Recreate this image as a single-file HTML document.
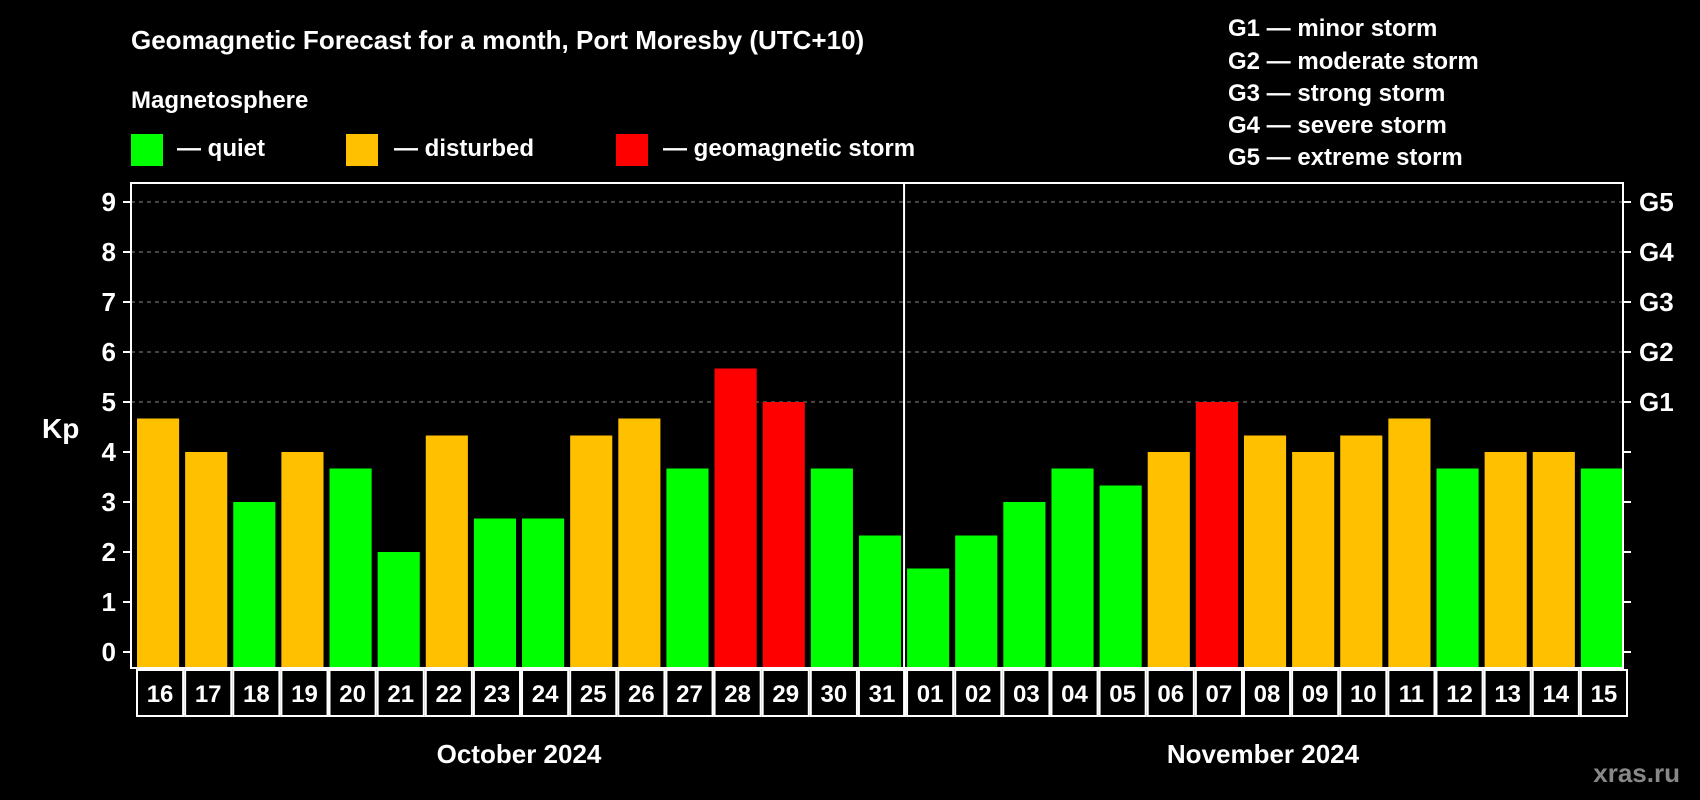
<!DOCTYPE html>
<html><head><meta charset="utf-8"><style>
body{margin:0;background:#000;}
svg{display:block;font-family:"Liberation Sans",Arial,sans-serif;font-weight:bold;}
</style></head><body>
<svg id="c" width="1700" height="800" viewBox="0 0 1700 800">
<rect width="1700" height="800" fill="#000"/>
<text x="131" y="49" fill="#fff" font-size="26">Geomagnetic Forecast for a month, Port Moresby (UTC+10)</text>
<text x="131" y="108" fill="#fff" font-size="24">Magnetosphere</text>
<g><rect x="131" y="134" width="32" height="32" fill="#00ff00"/><text x="177" y="156" fill="#fff" font-size="24">— quiet</text></g>
<g><rect x="346" y="134" width="32" height="32" fill="#ffc000"/><text x="394" y="156" fill="#fff" font-size="24">— disturbed</text></g>
<g><rect x="616" y="134" width="32" height="32" fill="#ff0000"/><text x="663" y="156" fill="#fff" font-size="24">— geomagnetic storm</text></g>
<g fill="#fff" font-size="24">
<text x="1228" y="36">G1 — minor storm</text>
<text x="1228" y="69">G2 — moderate storm</text>
<text x="1228" y="101">G3 — strong storm</text>
<text x="1228" y="133">G4 — severe storm</text>
<text x="1228" y="165">G5 — extreme storm</text>
</g>
<text x="42" y="438" fill="#fff" font-size="28">Kp</text>
<text x="1680" y="782" fill="#888" font-size="26" text-anchor="end">xras.ru</text>
<text x="519" y="763" fill="#fff" font-size="26" text-anchor="middle">October 2024</text>
<text x="1263" y="763" fill="#fff" font-size="26" text-anchor="middle">November 2024</text>
<g id="g"></g>
</svg>
<script>
const days=["16","17","18","19","20","21","22","23","24","25","26","27","28","29","30","31","01","02","03","04","05","06","07","08","09","10","11","12","13","14","15"];
const kp=[4.67,4,3,4,3.67,2,4.33,2.67,2.67,4.33,4.67,3.67,5.67,5,3.67,2.33,1.67,2.33,3,3.67,3.33,4,5,4.33,4,4.33,4.67,3.67,4,4,3.67];
const yTicks=[0,1,2,3,4,5,6,7,8,9];
const gLabels=["G1","G2","G3","G4","G5"];
const L=131,R=1623,T=183,B=668;
const y=v=>652-v*50;
const slot=(R-L)/days.length;
const x=i=>L+i*slot;
const ns="http://www.w3.org/2000/svg";
const g=document.getElementById('g');
function mk(t,a,p){const e=document.createElementNS(ns,t);for(const k in a)e.setAttribute(k,a[k]);(p||g).appendChild(e);return e;}
yTicks.forEach(v=>{
  if(v>=5){const l=mk('line',{x1:L,x2:R,y1:y(v),y2:y(v),stroke:'#888','stroke-dasharray':'4 4','stroke-width':1});
  
  }
  mk('line',{x1:L-8,x2:L,y1:y(v),y2:y(v),stroke:'#fff','stroke-width':2});
  mk('line',{x1:R,x2:R+8,y1:y(v),y2:y(v),stroke:'#fff','stroke-width':2});
  const t=mk('text',{x:116,y:y(v)+9,fill:'#fff','font-size':26,'text-anchor':'end'});t.textContent=v;
  
  
});
gLabels.forEach((s,i)=>{const t=mk('text',{x:1639,y:y(5+i)+9,fill:'#fff','font-size':26});t.textContent=s;
  
  });
kp.forEach((v,i)=>{
  const c=v>=5?'#ff0000':v>=4?'#ffc000':'#00ff00';
  const r=mk('rect',{x:x(i)+6,y:y(v),width:slot-6,height:B-y(v),fill:c});
  
  
  const b=mk('rect',{x:x(i)+6,y:B+2,width:slot-2,height:46,fill:'none',stroke:'#fff','stroke-width':2});
  
  
  const t=mk('text',{x:x(i)+5+slot/2,y:B+34,fill:'#fff','font-size':24,'text-anchor':'middle'});t.textContent=days[i];
  
  
});
const fr=mk('rect',{x:L,y:T,width:R-L,height:B-T,fill:'none',stroke:'#fff','stroke-width':2});


const dv=mk('line',{x1:x(16)+3,x2:x(16)+3,y1:T,y2:B+48,stroke:'#fff','stroke-width':2});


</script>
</body></html>
